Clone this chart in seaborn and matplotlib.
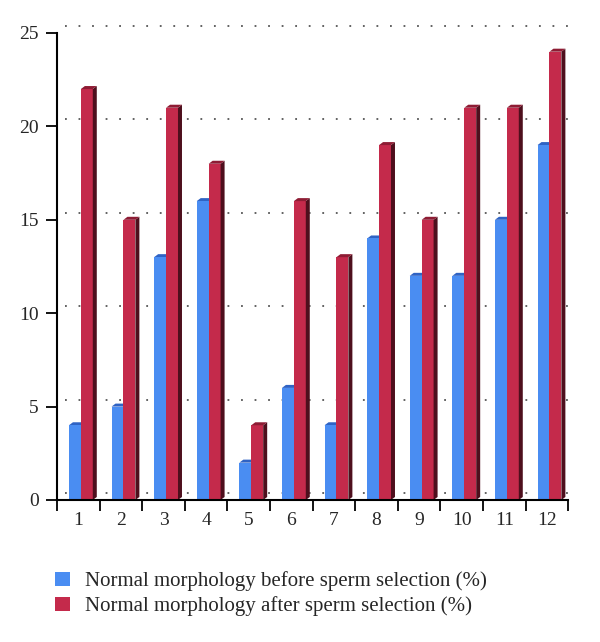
import matplotlib
matplotlib.use("Agg")
import matplotlib.pyplot as plt
import matplotlib.transforms as mtransforms
from matplotlib.patches import Polygon, Patch
import numpy as np
import pandas as pd
import seaborn as sns

# data
samples = [str(i) for i in range(1, 13)]
before = [4, 5, 13, 16, 2, 6, 4, 14, 12, 12, 15, 19]
after = [22, 15, 21, 18, 4, 16, 13, 19, 15, 21, 21, 24]
series = ["Normal morphology before sperm selection (%)",
          "Normal morphology after sperm selection (%)"]
yticks = [0, 5, 10, 15, 20, 25]

front = {series[0]: "#4a8df2", series[1]: "#c42a4b"}
top = {series[0]: "#2f63c4", series[1]: "#8e1c34"}
side = {series[0]: "#2a4f9a", series[1]: "#4e0f1d"}
face_z = {series[0]: 2.5, series[1]: 4}

df = pd.DataFrame({
    "sample": samples * 2,
    "value": before + after,
    "series": [series[0]] * 12 + [series[1]] * 12,
})

sns.set_style("white")
plt.rcParams["font.family"] = ["Liberation Serif", "DejaVu Serif"]

fig = plt.figure(figsize=(6, 6.42), dpi=100)
ax = fig.add_axes([0.095, 0.2212, 0.852, 0.7274])

sns.barplot(data=df, x="sample", y="value", hue="series", hue_order=series,
            palette=front, width=0.56, saturation=1, legend=False,
            linewidth=0, ax=ax, zorder=3)

ax.set_ylim(0, 25)
ax.set_xlim(-0.56, 11.44)

# dotted gridlines on the back wall (shifted up/right)
shift = mtransforms.ScaledTranslation(8 / 100, 7 / 100, fig.dpi_scale_trans)
for v in yticks:
    ax.plot([0, 1], [v, v], transform=ax.get_yaxis_transform() + shift,
            color="#555555", lw=1.3, ls=(0, (1, 6.5)), zorder=1, clip_on=False)

fig.canvas.draw()

# fake 3D: side and top faces for every bar
dx, dy = 4, 3
colors = [series[0]] * 12 + [series[1]] * 12
bars = [p for p in ax.patches if p.get_height() > 0]
for p, s in zip(bars, colors):
    x0, y0 = ax.transData.transform((p.get_x(), 0))
    x1, y1 = ax.transData.transform((p.get_x() + p.get_width(), p.get_height()))
    sd = Polygon([(x1, y0), (x1, y1), (x1 + dx, y1 + dy), (x1 + dx, y0 + dy)],
                 closed=True, facecolor=side[s], edgecolor="none",
                 transform=None, zorder=face_z[s])
    tp = Polygon([(x0, y1), (x1, y1), (x1 + dx, y1 + dy), (x0 + dx, y1 + dy)],
                 closed=True, facecolor=top[s], edgecolor="none",
                 transform=None, zorder=face_z[s])
    ax.add_artist(sd)
    ax.add_artist(tp)
    sd.set_clip_on(False)
    tp.set_clip_on(False)

# axes styling
for sp in ["top", "right"]:
    ax.spines[sp].set_visible(False)
for sp in ["left", "bottom"]:
    ax.spines[sp].set_color("black")
    ax.spines[sp].set_linewidth(1.5)
    ax.spines[sp].set_zorder(5)

ax.set_yticks(yticks)
ax.set_yticklabels([str(v) for v in yticks], fontsize=14)
ax.set_xticks(np.arange(13) - 0.56)
ax.set_xticklabels([])
ax.set_xticks(np.arange(12) - 0.06, minor=True)
ax.set_xticklabels(samples, minor=True, fontsize=14)
ax.tick_params(axis="x", which="major", direction="out", length=8, width=1.3,
               color="black", bottom=True)
ax.tick_params(axis="x", which="minor", length=0, pad=9)
ax.tick_params(axis="y", direction="out", length=8, width=1.3, color="black",
               left=True, pad=5)
ax.set_xlabel("")
ax.set_ylabel("")
ax.grid(False)

handles = [Patch(facecolor=front[s], edgecolor="none", label=s) for s in series]
leg = fig.legend(handles=handles, loc="upper left",
                 bbox_to_anchor=(0.075, 1 - 561 / 642),
                 bbox_transform=fig.transFigure, frameon=False, fontsize=15,
                 handlelength=0.7, handleheight=0.7, handletextpad=0.7,
                 labelspacing=0.25, borderpad=0)

fig.savefig("out.png", dpi=100)
